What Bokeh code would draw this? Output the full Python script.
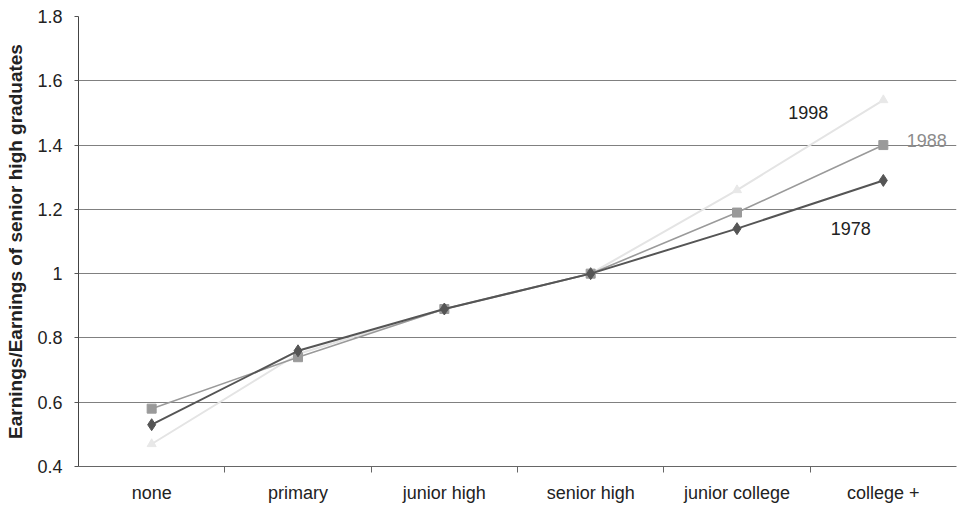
from bokeh.plotting import figure
from bokeh.models import FixedTicker, Range1d, ColumnDataSource
from bokeh.core.properties import value
from bokeh.embed import file_html
from bokeh.resources import INLINE

# Education levels and relative earnings (senior high = 1)
categories = ["none", "primary", "junior high", "senior high", "junior college", "college +"]
y1978 = [0.53, 0.76, 0.89, 1.0, 1.14, 1.29]
y1988 = [0.58, 0.74, 0.89, 1.0, 1.19, 1.40]
y1998 = [0.47, 0.75, 0.89, 1.0, 1.26, 1.54]
y_ticks = [0.4, 0.6, 0.8, 1.0, 1.2, 1.4, 1.6, 1.8]
y_tick_labels = ["0.4", "0.6", "0.8", "1", "1.2", "1.4", "1.6", "1.8"]

# Series labels: (text, x in category units, y, colour)
series_labels = [
    ("1998", 4.85, 1.50, "#222222"),
    ("1988", 5.66, 1.415, "#8c8c8c"),
    ("1978", 5.14, 1.14, "#222222"),
]

FONT = "Liberation Sans"
xs = [i + 0.5 for i in range(len(categories))]

p = figure(width=962, height=511, output_backend="svg", toolbar_location=None,
           x_range=Range1d(0, len(categories)), y_range=Range1d(0.4, 1.8),
           min_border_left=78, min_border_right=6, min_border_top=16, min_border_bottom=45)
p.outline_line_color = None
p.background_fill_color = "white"
p.border_fill_color = "white"

# x axis: labels at category centres, tick marks at category boundaries
p.xaxis.ticker = FixedTicker(ticks=xs, minor_ticks=list(range(1, len(categories))))
p.xaxis.major_label_overrides = {x: c for x, c in zip(xs, categories)}
p.xaxis.major_tick_out = 0
p.xaxis.major_tick_in = 0
p.xaxis.minor_tick_out = 6
p.xaxis.minor_tick_in = 0
p.xaxis.minor_tick_line_color = "#666666"
p.xaxis.axis_line_color = "#666666"
p.xaxis.major_label_text_font = FONT
p.xaxis.major_label_text_font_size = "18px"
p.xaxis.major_label_text_color = "#222222"
p.xaxis.major_label_standoff = 10
p.xgrid.grid_line_color = None

# y axis
p.yaxis.ticker = FixedTicker(ticks=y_ticks)
p.yaxis.major_label_overrides = {t: s for t, s in zip(y_ticks, y_tick_labels)}
p.yaxis.minor_tick_line_color = None
p.yaxis.major_tick_out = 4
p.yaxis.major_tick_in = 0
p.yaxis.major_tick_line_color = "#555555"
p.yaxis.axis_line_color = "#444444"
p.yaxis.major_label_text_font = FONT
p.yaxis.major_label_text_font_size = "18px"
p.yaxis.major_label_text_color = "#222222"
p.yaxis.major_label_standoff = 12
p.yaxis.axis_label = "Earnings/Earnings of senior high graduates"
p.yaxis.axis_label_text_font = FONT
p.yaxis.axis_label_text_font_size = "19px"
p.yaxis.axis_label_text_font_style = "bold"
p.yaxis.axis_label_text_color = "#222222"
p.yaxis.axis_label_standoff = 8
p.ygrid.grid_line_color = "#808080"
p.ygrid.grid_line_width = 1

src = ColumnDataSource(dict(x=xs, y1978=y1978, y1988=y1988, y1998=y1998))

# 1998: very light line with triangles
p.line("x", "y1998", source=src, line_color="#e4e4e4", line_width=2)
p.scatter("x", "y1998", source=src, marker="triangle", size=9,
          fill_color="#e8e8e8", line_color="#e8e8e8")

# 1988: mid grey with squares
p.line("x", "y1988", source=src, line_color="#9a9a9a", line_width=1.6)
p.scatter("x", "y1988", source=src, marker="square", size=9,
          fill_color="#9a9a9a", line_color="#9a9a9a")

# 1978: dark grey with diamonds
p.line("x", "y1978", source=src, line_color="#555555", line_width=2)
p.scatter("x", "y1978", source=src, marker="diamond", size=12,
          fill_color="#555555", line_color="#555555")

lab = ColumnDataSource(dict(
    x=[s[1] for s in series_labels], y=[s[2] for s in series_labels],
    text=[s[0] for s in series_labels], color=[s[3] for s in series_labels]))
p.text("x", "y", text="text", source=lab, text_color="color",
       text_font=value(FONT), text_font_size="18px",
       text_align="left", text_baseline="middle")

open("out.html", "w").write(file_html(p, INLINE))
